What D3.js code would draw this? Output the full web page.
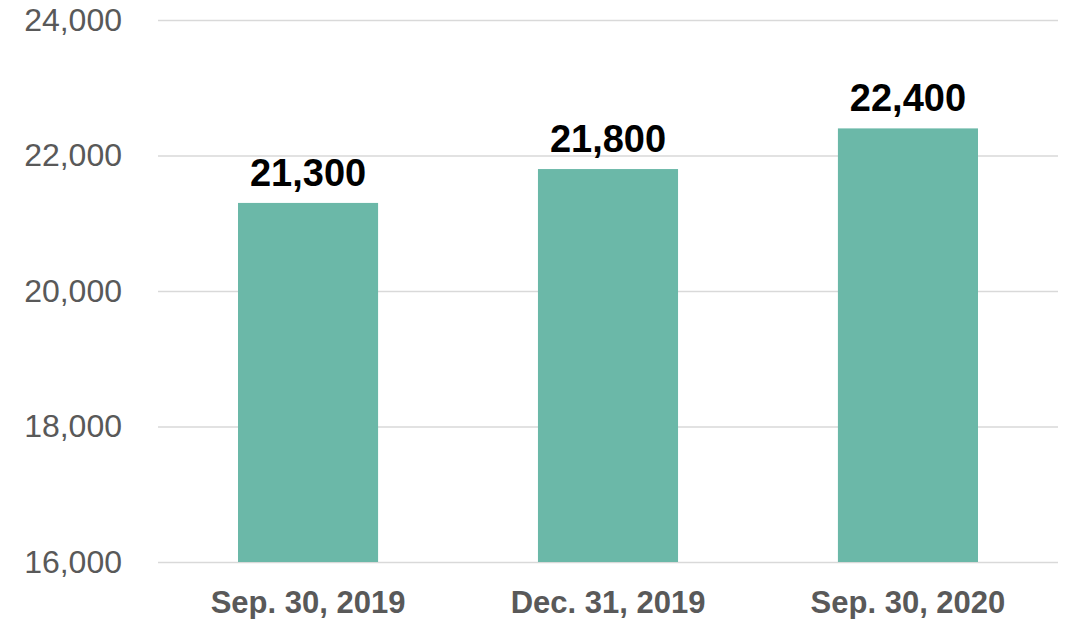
<!DOCTYPE html>
<html>
<head>
<meta charset="utf-8">
<script src="https://cdn.jsdelivr.net/npm/d3@7"></script>
<style>
  body { margin: 0; background: #fff; }
  svg { display: block; font-family: Arial, "Liberation Sans", sans-serif; }
</style>
</head>
<body>
<svg width="1066" height="619"></svg>
<script>
const categories = ["Sep. 30, 2019", "Dec. 31, 2019", "Sep. 30, 2020"];
const values = [21300, 21800, 22400];
const yTicks = [16000, 18000, 20000, 22000, 24000];

const svg = d3.select("svg");

const margin = { top: 20, left: 158, right: 8, bottom: 57 };
const width = 1066 - margin.left - margin.right;
const height = 619 - margin.top - margin.bottom;

const g = svg.append("g").attr("transform", `translate(${margin.left},${margin.top})`);

const x = d3.scaleBand()
  .domain(categories)
  .range([0, width])
  .paddingInner(0.533)
  .paddingOuter(0.2667);

const y = d3.scaleLinear()
  .domain([16000, 24000])
  .range([height, 0]);

const fmt = d3.format(",");

// gridlines + tick labels
const yAxis = d3.axisLeft(y)
  .tickValues(yTicks)
  .tickSize(-width)
  .tickFormat(fmt);

g.append("g")
  .call(yAxis)
  .call(ax => ax.select(".domain").remove())
  .call(ax => ax.selectAll(".tick line").attr("stroke", "#d9d9d9").attr("stroke-width", 1.5))
  .call(ax => ax.selectAll(".tick text")
    .attr("x", -36)
    .attr("fill", "#595959")
    .attr("font-size", 32)
    .attr("font-family", "Arial, 'Liberation Sans', sans-serif"));

// bars
g.selectAll("rect.bar")
  .data(values)
  .enter()
  .append("rect")
  .attr("class", "bar")
  .attr("x", (d, i) => x(categories[i]))
  .attr("y", d => y(d))
  .attr("width", x.bandwidth())
  .attr("height", d => height - y(d))
  .attr("fill", "#6bb8a8");

// value labels
g.selectAll("text.val")
  .data(values)
  .enter()
  .append("text")
  .attr("class", "val")
  .attr("x", (d, i) => x(categories[i]) + x.bandwidth() / 2)
  .attr("y", d => y(d) - 17)
  .attr("text-anchor", "middle")
  .attr("font-size", 38)
  .attr("font-weight", "bold")
  .attr("fill", "#000")
  .text(d => fmt(d));

// category labels
const xAxis = d3.axisBottom(x).tickSize(0);
g.append("g")
  .attr("transform", `translate(0,${height})`)
  .call(xAxis)
  .call(ax => ax.select(".domain").remove())
  .call(ax => ax.selectAll(".tick text")
    .attr("y", 0)
    .attr("dy", 51)
    .attr("fill", "#595959")
    .attr("font-size", 31)
    .attr("font-weight", "bold")
    .attr("font-family", "Arial, 'Liberation Sans', sans-serif"));
</script>
</body>
</html>
